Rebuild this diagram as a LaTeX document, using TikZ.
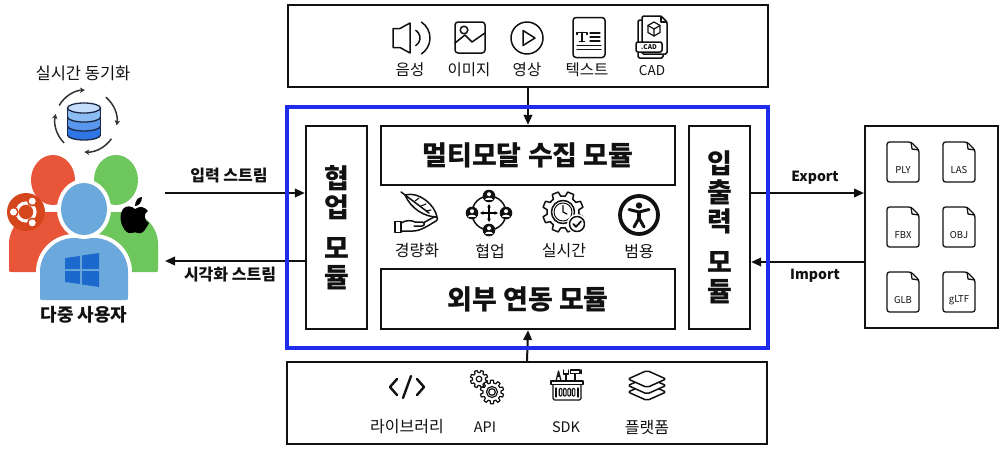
\documentclass[tikz,border=0pt]{standalone}
\usepackage{fontspec}
\setmainfont{Noto Sans CJK KR}
\usetikzlibrary{arrows.meta,calc,backgrounds}

\definecolor{frameblue}{RGB}{32,44,235}
\definecolor{ink}{RGB}{17,17,17}
\definecolor{userred}{RGB}{233,85,56}
\definecolor{usergreen}{RGB}{110,199,93}
\definecolor{userblue}{RGB}{107,168,219}
\definecolor{ubuntuorange}{RGB}{213,70,28}
\definecolor{winblue}{RGB}{28,105,205}
\definecolor{dbtop}{RGB}{196,221,250}
\definecolor{dbA}{RGB}{140,189,242}
\definecolor{dbB}{RGB}{88,151,236}
\definecolor{dbC}{RGB}{45,118,228}
\definecolor{dbline}{RGB}{30,42,70}

% gear outline: #1 style, #2 centre, #3 root radius, #4 tip radius, #5 teeth
\newcommand\drawgear[5]{%
  \begin{scope}[shift={#2}]
    \pgfmathsetmacro\gearstep{360/#5}
    \draw[#1] (0:#3pt) \foreach \k in {1,...,#5} {
      -- ({(\k-1)*\gearstep+0.18*\gearstep}:#3pt)
      -- ({(\k-1)*\gearstep+0.30*\gearstep}:#4pt)
      -- ({(\k-1)*\gearstep+0.70*\gearstep}:#4pt)
      -- ({(\k-1)*\gearstep+0.82*\gearstep}:#3pt)
      -- ({\k*\gearstep}:#3pt)} -- cycle;
  \end{scope}}

% user silhouette body: #1 style, #2 left, #3 right, #4 top, #5 bottom, #6 shoulder radius
\newcommand\userbody[6]{%
  \path[#1] (#2,#5-3) -- (#2,#4+#6)
    .. controls (#2,#4+0.45*#6) and (#2+0.45*#6,#4) .. (#2+#6,#4)
    -- (#3-#6,#4)
    .. controls (#3-0.45*#6,#4) and (#3,#4+0.45*#6) .. (#3,#4+#6)
    -- (#3,#5-3) .. controls (#3,#5) .. (#3-3,#5)
    -- (#2+3,#5) .. controls (#2,#5) .. (#2,#5-3) -- cycle;}

\begin{document}
\begin{tikzpicture}[x=1pt,y=-1pt,
  box/.style={draw=ink, line width=2.2pt, inner sep=0pt},
  arr/.style={draw=ink, line width=2pt, -{Triangle[length=10pt,width=8.5pt]}},
  ico/.style={draw=ink, line width=1.5pt, line join=round, line cap=round},
  toplbl/.style={font=\fontsize{15.5}{18}\selectfont, text=ink},
  latinlbl/.style={font=\fontsize{13.5}{16}\selectfont, text=ink},
  midlbl/.style={font=\fontsize{16}{19}\selectfont, text=ink},
  botlbl/.style={font=\fontsize{16}{19}\selectfont, text=ink},
  botlatin/.style={font=\fontsize{14.5}{17}\selectfont, text=ink},
  streamlbl/.style={font=\bfseries\fontsize{16}{19}\selectfont, text=ink},
  latinstream/.style={font=\bfseries\fontsize{14}{17}\selectfont, text=ink},
  title/.style={font=\bfseries\fontsize{27}{30}\selectfont, text=ink},
  vtitle/.style={font=\bfseries\fontsize{27}{29}\selectfont, align=center, text=ink},
  filebox/.style={draw=ink, line width=1.3pt, line join=round, fill=white},
  filelbl/.style={font=\fontsize{9.5}{11}\selectfont, inner sep=0pt, text=ink},
  syncarr/.style={draw=black!80, line width=1.5pt, -{Stealth[length=5pt,width=5.5pt]}},
]
\useasboundingbox (0,0) rectangle (1000,450);

% ---------- media input panel ----------
\node[box, minimum width=480pt, minimum height=82pt] (media) at (528,46) {};

% speaker
\begin{scope}[shift={(410,38)}]
  \draw[ico] (-17,-9.5) -- (-10,-9.5) -- (0,-15) -- (0,15) -- (-10,9.5) -- (-17,9.5) -- cycle;
  \draw[ico] (1,0) ++(58:9pt) arc[start angle=58,end angle=-58,radius=9pt];
  \draw[ico] (1,0) ++(57:19pt) arc[start angle=57,end angle=-57,radius=19pt];
\end{scope}
% picture
\begin{scope}[shift={(470,38)}]
  \draw[ico, rounded corners=3pt] (-15,-16) rectangle (15,15);
  \draw[ico] (-6,-8) circle[radius=3.8pt];
  \draw[ico] (-15,5) -- (-5,-3) -- (2,4) -- (15,-5);
\end{scope}
% play
\begin{scope}[shift={(527,38)}]
  \draw[ico] (0,0) circle[radius=16pt];
  \draw[ico] (-4,-7.5) -- (-4,7.5) -- (8,0) -- cycle;
\end{scope}
% text document
\begin{scope}[shift={(589,37.5)}]
  \draw[ico, rounded corners=3pt] (-16,-20) rectangle (16,20);
  \draw[ico, line width=1.3pt] (-12,-3) -- (-12,-5) -- (-2,-5) -- (-2,-3);
  \draw[ico, line width=1.6pt] (-7,-5) -- (-7,4);
  \draw[ico, line width=1.3pt] (-9.5,4) -- (-4.5,4);
  \draw[ico, line width=1.2pt] (1,-4.5) -- (11,-4.5) (1,-0.5) -- (11,-0.5) (1,3.5) -- (11,3.5);
  \draw[ico, line width=1.2pt] (-12,8) -- (12,8) (-12,12) -- (12,12);
\end{scope}
% CAD file
\begin{scope}[shift={(652,37)}]
  \draw[ico, fill=white, rounded corners=1.5pt] (-14,-17) -- (-14,21) -- (11,21) -- (11,-17) -- cycle;
  \draw[ico, fill=white, rounded corners=1.5pt] (-10,-21) -- (9,-21) -- (15,-15) -- (15,17) -- (-10,17) -- cycle;
  \draw[ico, line width=1.2pt] (9,-21) -- (9,-15) -- (15,-15);
  \begin{scope}[shift={(2,-8)}]
    \draw[ico, line width=1.2pt] (90:7pt) -- (30:7pt) -- (-30:7pt) -- (-90:7pt) -- (-150:7pt) -- (150:7pt) -- cycle;
    \draw[ico, line width=1.2pt] (150:7pt) -- (0,0) -- (30:7pt) (0,0) -- (-90:7pt);
  \end{scope}
  \draw[ico, fill=white, rounded corners=2pt] (-16,5) rectangle (10,15);
  \node[font=\bfseries\fontsize{6.5}{7}\selectfont, inner sep=0pt, text=ink] (cadTag) at (-3,10) {.CAD};
\end{scope}

\node[toplbl] (lblAudio) at (410,70) {음성};
\node[toplbl] (lblImage) at (469,70) {이미지};
\node[toplbl] (lblVideo) at (527,70) {영상};
\node[toplbl] (lblText)  at (587,70) {텍스트};
\node[latinlbl] (lblCad) at (652,71) {CAD};

% ---------- core platform ----------
\node[draw=frameblue, line width=4pt, minimum width=481pt, minimum height=241pt, inner sep=0pt] (core) at (527.5,227.5) {};
\node[box, vtitle, minimum width=61pt, minimum height=203pt] (collab) at (336.5,227.5) {협\\업\\[12pt]모\\듈};
\node[box, title, minimum width=294pt, minimum height=59pt] (multi) at (528,155.5) {멀티모달 수집 모듈};
\node[box, title, minimum width=294pt, minimum height=60pt] (ext) at (528,299) {외부 연동 모듈};
\node[box, vtitle, minimum width=61pt, minimum height=203pt] (io) at (719.5,227.5) {입\\출\\력\\[12pt]모\\듈};

% lightweight: hand holding a feather
\begin{scope}[shift={(417,213)}]
  \draw[ico] (-12,-18) .. controls (2,-22) and (18,-8) .. (20,4) .. controls (8,4) and (-6,-4) .. (-12,-18) -- cycle;
  \draw[ico] (-16,-21) -- (12,0);
  \draw[ico, line width=1.1pt] (-2,-12) -- (2,-15) (4,-7) -- (9,-9) (9,-2) -- (14,-3);
  \draw[ico] (-22,8.5) rectangle (-16,19.5);
  \draw[ico] (-16,10) .. controls (-11,7) and (-6,7) .. (-2,9) -- (5,9) .. controls (8,9) and (8,13) .. (5,13) -- (-3,13);
  \draw[ico] (-16,18) -- (-4,18) .. controls (4,18) and (12,12) .. (19,8) .. controls (22,6) and (20,3) .. (17,4) -- (7,9.5);
\end{scope}
% collaboration: four members on a ring
\begin{scope}[shift={(489,213)}]
  \draw[ico] (0,0) circle[radius=17pt];
  \draw[line width=1.2pt, {Stealth[length=3.5pt,width=3.5pt]}-{Stealth[length=3.5pt,width=3.5pt]}] (-9,0) -- (9,0);
  \draw[line width=1.2pt, {Stealth[length=3.5pt,width=3.5pt]}-{Stealth[length=3.5pt,width=3.5pt]}] (0,-9) -- (0,9);
  \foreach \px/\py in {0/-17,17/0,0/17,-17/0} {
    \begin{scope}[shift={(\px,\py)}]
      \fill[ink] (0,0) circle[radius=6.3pt];
      \fill[white] (0,-1.8) circle[radius=2pt];
      \fill[white] (-3.7,4.4) .. controls (-3.7,0.8) and (3.7,0.8) .. (3.7,4.4) -- cycle;
    \end{scope}}
\end{scope}
% real time: gear with clock and check badge
\begin{scope}[shift={(563,212)}]
  \drawgear{ico}{(0,0)}{16}{20.5}{8}
  \draw[ico] (0,0) circle[radius=11.5pt];
  \draw[ico, line width=1pt] (0,0) circle[radius=9pt];
  \draw[ico, line width=1.2pt] (0,0) -- (0,-6.5) (0,0) -- (4,2);
  \fill[white] (14,12) circle[radius=10pt];
  \draw[ico] (14,12) circle[radius=7.5pt];
  \draw[ico, line width=1.8pt] (10.3,12) -- (13,14.8) -- (18,9.3);
\end{scope}
% universal: accessibility figure
\begin{scope}[shift={(639,215)}]
  \draw[ink, line width=3.8pt] (0,0) circle[radius=19pt];
  \fill[ink] (0,-9.5) circle[radius=3.2pt];
  \draw[ink, line width=3pt, line cap=round, line join=round] (-10,-5.5) -- (0,-3) -- (10,-5.5);
  \draw[ink, line width=4pt] (0,-4) -- (0,4);
  \draw[ink, line width=3pt, line cap=round] (0,3) -- (-5,12) (0,3) -- (5,12);
\end{scope}

\node[midlbl] (lblLight) at (417,251) {경량화};
\node[midlbl] (lblCollab) at (490,251) {협업};
\node[midlbl] (lblRealtime) at (564,251) {실시간};
\node[midlbl] (lblGeneral) at (639,251) {범용};

% ---------- integration panel ----------
\node[box, minimum width=480pt, minimum height=82pt] (toolkit) at (527,403) {};

% code brackets
\begin{scope}[shift={(407,387)}, line width=2.4pt, line cap=round, line join=round]
  \draw[ink] (-10,-8) -- (-17,0) -- (-10,8);
  \draw[ink] (10,-8) -- (17,0) -- (10,8);
  \draw[ink] (4,-11) -- (-4,11);
\end{scope}
% gears
\drawgear{ico, fill=white, line width=1.2pt}{(479,379)}{6.5}{8.8}{8}
\draw[ico, line width=1.2pt] (479,379) circle[radius=2.8pt];
\drawgear{ico, fill=white, line width=1.2pt}{(492,392)}{9}{11.8}{10}
\draw[ico, line width=1.2pt] (492,392) circle[radius=5.5pt];
\draw[ico, line width=1.2pt] (492,392) circle[radius=3.3pt];
% SDK toolbox
\begin{scope}[shift={(567,386)}]
  \draw[ico, line width=1.2pt] (-11,-5) -- (-8.5,-15) -- (-6,-5);
  \draw[ico, line width=1.2pt] (-9.7,-10) -- (-7.3,-10);
  \draw[ico, line width=1.2pt] (-1,-5) -- (-1,-12) (-3.5,-16) -- (-3.5,-12) -- (1.5,-12) -- (1.5,-16);
  \draw[ico, line width=1.2pt] (8,-5) -- (8,-13);
  \draw[ico, line width=1.2pt, fill=white] (3.5,-16) rectangle (13,-12.5);
  \draw[ico, line width=1.2pt] (14.5,-16) -- (14.5,-12.5);
  \draw[ico, line width=1.2pt, fill=white] (-16,-5) rectangle (16,-1.5);
  \draw[ico, line width=1.2pt, rounded corners=1.5pt] (-14,-1.5) -- (-14,14) -- (14,14) -- (14,-1.5);
  \draw[ico, line width=1.1pt] (-11,2) -- (-11,11) (11,2) -- (11,11);
  \foreach \bx in {-6.5,-2.2,2.2,6.5}
    \draw[ico, line width=1.1pt, rounded corners=1pt] (\bx-1.3,2.5) rectangle (\bx+1.3,10);
\end{scope}
% platform layers
\begin{scope}[shift={(647,386)}]
  \foreach \ly in {6,-0.5,-7}
    \draw[ico, fill=white, rounded corners=2pt] (-19,\ly) -- (0,\ly-8.5) -- (19,\ly) -- (0,\ly+8.5) -- cycle;
\end{scope}

\node[botlbl] (lblLib) at (407,427) {라이브러리};
\node[botlatin] (lblApi) at (485,427) {API};
\node[botlatin] (lblSdk) at (566,427) {SDK};
\node[botlbl] (lblPlatform) at (647,427) {플랫폼};

% ---------- exchange formats ----------
\node[box, line width=2pt, minimum width=133pt, minimum height=202pt] (formats) at (931.5,227) {};
\foreach \nm/\fx/\fy/\ft in {Ply/903/162/PLY, Las/959/162/LAS, Fbx/903/227/FBX, Obj/959/227/OBJ, Glb/903/292/GLB, Gltf/959/292/gLTF} {
  \draw[filebox, rounded corners=2.5pt] (\fx-16,\fy-20) -- (\fx+8,\fy-20) -- (\fx+16,\fy-12) -- (\fx+16,\fy+20) -- (\fx-16,\fy+20) -- cycle;
  \draw[filebox, fill=none] (\fx+8,\fy-20) -- (\fx+9,\fy-13) -- (\fx+16,\fy-12);
  \node[filelbl] (file\nm) at (\fx,\fy+8) {\ft};
}

% ---------- users ----------
\userbody{fill=userred}{9}{97}{212}{272}{32}
\fill[userred] (53,180) ellipse[x radius=22pt, y radius=25pt];
\userbody{fill=usergreen}{72}{158}{212}{272}{32}
\fill[usergreen] (116,180) ellipse[x radius=22pt, y radius=25pt];
\draw[white, line width=2.5pt] (44,211) -- (64,211) (104,210) -- (123,210);
\userbody{draw=white, line width=8pt}{40}{128}{238}{300}{34}
\userbody{fill=userblue}{40}{128}{238}{300}{34}
\draw[white, line width=8pt] (84,209) ellipse[x radius=23pt, y radius=26pt];
\fill[userblue] (84,209) ellipse[x radius=23pt, y radius=26pt];

% ubuntu badge
\begin{scope}[shift={(26,212)}]
  \fill[ubuntuorange] (0,0) circle[radius=19pt];
  \draw[white, line width=3.2pt] (0,0) circle[radius=9pt];
  \foreach \ang in {180,60,-60} {
    \fill[ubuntuorange] (\ang:12.5pt) circle[radius=5.3pt];
    \fill[white] (\ang:12.5pt) circle[radius=3.5pt];}
\end{scope}
% apple badge
\begin{scope}[shift={(135,218)}]
  \fill[black] (0,-9) .. controls (-3,-12) and (-9,-13) .. (-12,-9)
    .. controls (-16,-4) and (-15,5) .. (-11,11)
    .. controls (-8,15) and (-5,16) .. (-3,15)
    .. controls (-1,14) and (1,14) .. (3,15)
    .. controls (6,16) and (9,14) .. (11,10)
    .. controls (12,9) and (13,7) .. (14,5)
    .. controls (9,3) and (8,-5) .. (13,-7)
    .. controls (10,-11) and (5,-12) .. (2,-10)
    .. controls (1,-9.5) and (0.5,-9.3) .. (0,-9) -- cycle;
  \fill[black] (0,-12) .. controls (0,-17) and (3,-21) .. (7,-21) .. controls (7,-16) and (4,-12) .. (0,-12) -- cycle;
\end{scope}
% windows badge
\fill[winblue] (65,258) -- (80,256) -- (80,269) -- (65,269) -- cycle;
\fill[winblue] (82,255.5) -- (99,253) -- (99,269) -- (82,269) -- cycle;
\fill[winblue] (65,271) -- (80,271) -- (80,284) -- (65,282) -- cycle;
\fill[winblue] (82,271) -- (99,271) -- (99,287) -- (82,284.5) -- cycle;

% shared database with sync arrows
\fill[dbC] (67.5,126) -- (67.5,135) arc[start angle=180,end angle=360,x radius=16.5pt,y radius=5pt] -- (100.5,126) arc[start angle=0,end angle=-180,x radius=16.5pt,y radius=5pt] -- cycle;
\fill[dbB] (67.5,117) -- (67.5,126) arc[start angle=180,end angle=360,x radius=16.5pt,y radius=5pt] -- (100.5,117) arc[start angle=0,end angle=-180,x radius=16.5pt,y radius=5pt] -- cycle;
\fill[dbA] (67.5,108) -- (67.5,117) arc[start angle=180,end angle=360,x radius=16.5pt,y radius=5pt] -- (100.5,108) arc[start angle=0,end angle=-180,x radius=16.5pt,y radius=5pt] -- cycle;
\fill[dbtop] (84,108) ellipse[x radius=16.5pt,y radius=5pt];
\begin{scope}[draw=dbline, line width=1.3pt]
  \draw (84,108) ellipse[x radius=16.5pt,y radius=5pt];
  \draw (67.5,108) -- (67.5,135) (100.5,108) -- (100.5,135);
  \foreach \dy in {117,126,135}
    \draw (67.5,\dy) arc[start angle=180,end angle=360,x radius=16.5pt,y radius=5pt];
\end{scope}
\draw[syncarr] (86,121) ++(150:31pt) arc[start angle=150,end angle=92,radius=31pt];
\draw[syncarr] (86,121) ++(50:31pt) arc[start angle=50,end angle=-8,radius=31pt];
\draw[syncarr] (86,121) ++(-35:31pt) arc[start angle=-35,end angle=-93,radius=31pt];
\draw[syncarr] (86,121) ++(225:31pt) arc[start angle=225,end angle=167,radius=31pt];

\node[font=\fontsize{16.5}{19}\selectfont, text=ink] (syncLbl) at (83,73) {실시간 동기화};
\node[font=\bfseries\fontsize{18}{21}\selectfont, text=ink] (usersLbl) at (84,315) {다중 사용자};

% ---------- connectors ----------
\coordinate (inStart) at (165,193);
\coordinate (outEnd) at (165,261);
\coordinate (expLevel) at (0,193);
\coordinate (impLevel) at (0,262);
\begin{pgfonlayer}{background}
  \draw[arr] (media.south) -- (multi.north);
  \draw[arr] (toolkit.north) -- (ext.south);
  \draw[arr] (inStart) -- (collab.west |- inStart);
  \draw[arr] (collab.west |- outEnd) -- (outEnd);
  \draw[arr] (io.east |- expLevel) -- (formats.west |- expLevel);
  \draw[arr] (formats.west |- impLevel) -- (io.east |- impLevel);
\end{pgfonlayer}

\node[streamlbl] (inLbl) at (229,176) {입력 스트림};
\node[streamlbl] (outLbl) at (230,275) {시각화 스트림};
\node[latinstream] (expLbl) at (815,178) {Export};
\node[latinstream] (impLbl) at (815,276) {Import};
\end{tikzpicture}
\end{document}
